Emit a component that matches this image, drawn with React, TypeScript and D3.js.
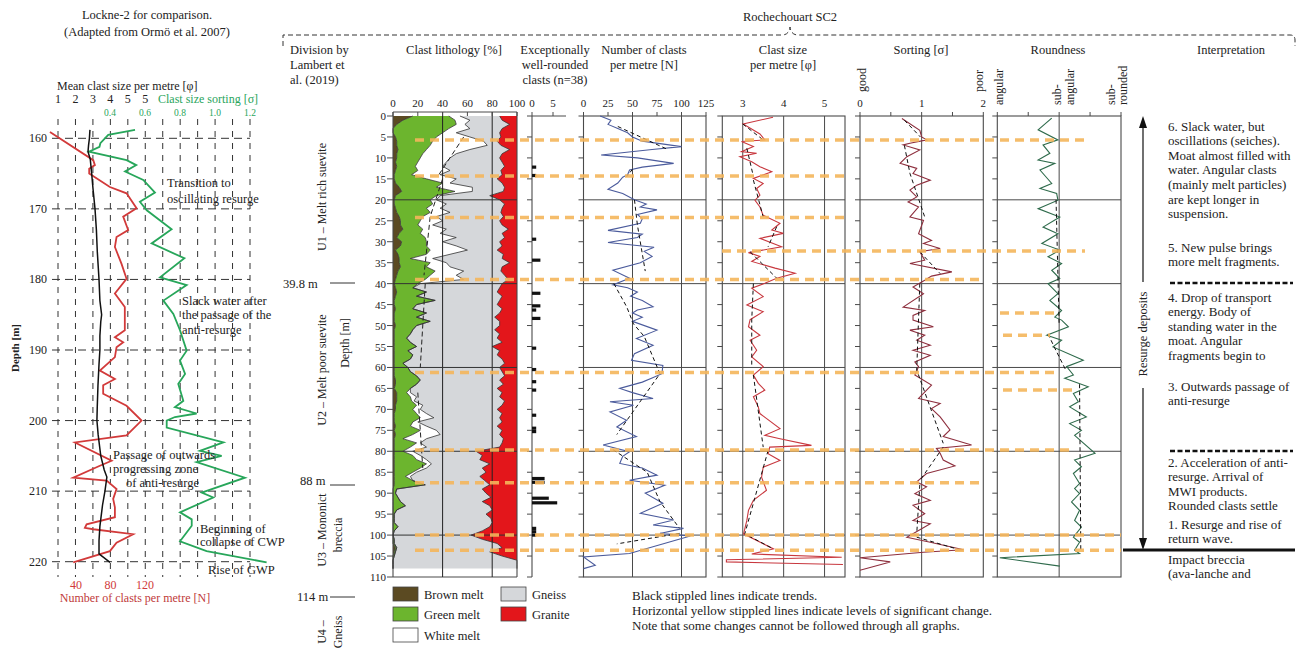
import React from 'react';
import * as d3 from 'd3';

// ---------- Rochechouart SC2 data (depth in m) ----------
const lithoDepths = d3.range(0, 109);
// component percentages per metre
const brownMelt = [16,8,3,0,0,2,3,3,4,3,3,2,3,2,1,1,2,5,7,2,1,1,2,3,5,6,6,8,5,3,7,6,2,4,5,5,6,4,3,2,1,2,3,2,1,1,2,1,1,1,2,1,1,1,1,1,1,1,1,1,1,1,1,2,2,1,3,3,3,2,2,1,1,1,2,1,2,1,1,1,1,1,1,1,1,1,1,1,1,0,0,0,0,0,0,0,0,0,0,0,0,0,0,2,1,0,0,0,0];
const greenMelt = [29,42,48,45,40,33,29,27,23,21,19,18,15,18,14,26,38,30,43,33,29,31,25,27,19,16,14,16,17,23,20,21,28,23,9,25,21,30,27,24,19,14,24,17,33,18,14,26,18,29,17,15,13,10,13,18,11,15,13,7,11,13,18,20,17,13,8,11,12,17,14,18,21,15,12,21,14,7,18,13,7,15,18,26,21,15,9,15,25,3,2,4,6,10,3,1,1,1,4,1,0,1,1,1,1,1,0,0,0];
const whiteMelt = [9,12,7,17,11,27,41,46,35,27,24,23,22,26,23,24,6,29,14,3,5,11,11,16,11,18,12,19,16,25,13,24,30,19,18,13,19,23,21,31,2,0,0,0,0,0,0,0,0,0,0,0,0,0,0,0,0,0,0,0,0,0,0,0,0,0,3,5,2,5,6,8,11,4,13,13,22,19,3,13,8,6,8,4,5,3,4,0,0,0,0,0,0,0,0,0,0,0,0,0,0,0,0,0,0,0,0,0,0];
const gneiss = [32,26,36,26,35,25,11,11,32,37,40,45,50,41,50,33,42,26,25,40,51,47,50,41,54,46,56,50,50,39,46,37,24,43,56,51,42,30,39,36,66,70,57,69,52,65,72,59,63,56,67,66,72,73,74,61,74,68,74,82,74,74,71,64,70,70,74,67,73,64,62,61,53,68,57,53,48,62,66,59,51,50,43,47,45,56,56,58,52,69,73,75,66,68,77,74,78,79,74,71,63,71,83,85,76,87,100,100,100];
const granite = [14,12,6,12,14,13,16,13,6,12,14,12,10,13,12,16,12,10,11,22,14,10,12,13,11,14,12,7,12,10,14,12,16,11,12,6,12,13,10,7,12,14,16,12,14,16,12,14,18,14,14,18,14,16,12,20,14,16,12,10,14,12,10,14,11,16,12,14,10,12,16,12,14,12,16,12,14,11,12,14,33,28,30,22,28,25,30,26,22,28,25,21,28,22,20,25,21,20,22,28,37,28,16,12,22,12,0,0,0];
const lithoTrend = [
  [[5, 57], [14, 37]],
  [[15, 40], [24, 30], [38, 25]],
  [[40, 26], [60, 22]],
  [[66, 20], [84, 24]],
];

const roundedDepths = [12.2,14.2,29.4,34.4,42.3,45.3,46.3,48.3,55.4,60.5,63.4,65.4,71.4,74.5,75.3,86.5,87.4,91.2,92.3,98.4,99.2,100];
const roundedCounts = [1,1,1,2,2,2,1,2,1,1,1,1,1,1,1,3,3,4,6,1,1,1];

const clastCount: [number, number][] = [[0,17],[1,28],[2,25],[3,35],[4,45],[5,50],[6,60],[7.3,100],[8,70],[9.3,18],[10,55],[11.3,92],[12.2,60],[12.9,47],[14,45],[14.6,40],[16,35],[17.5,25],[18.5,40],[20,52],[21,64],[21.7,58],[22.4,75],[23.5,55],[24.5,60],[25.6,58],[27.3,25],[28.2,60],[29,55],[30.2,25],[31.3,72],[32.3,62],[33.5,70],[35,58],[36.8,30],[38.7,47],[40.3,30],[41,45],[42,55],[43,48],[44,60],[45.5,71],[46.3,55],[47,50],[48,60],[49,50],[51.1,75],[53.1,54],[54.7,71],[56.7,52],[58.3,49],[59.5,81],[61.5,80],[62.5,70],[63.5,60],[65,37],[66,50],[67.4,71],[68.2,27],[69,51],[70.6,27],[72.6,44],[74.2,34],[76.5,54],[78.5,20],[80.1,47],[81.2,40],[82.9,37],[84,60],[85.7,75],[86.9,47],[88.1,83],[90,63],[92.4,81],[94.8,58],[96.4,92],[97.6,71],[98.4,102],[99.6,78],[100.2,109],[104.4,47],[105.2,0],[107.2,12],[108,0]];
const clastCountTrend = [
  [[2.5,35],[8,86]],
  [[12.7,50],[14.5,44]],
  [[20,52],[26,55],[37,63]],
  [[40,31],[45.5,44],[49.6,51],[52.6,62],[61.5,78],[76,34]],
  [[79.6,30],[85,65],[92,78],[98.4,98]],
  [[99.6,98],[102.1,34]],
];

const clastSize: [number, number][] = [[0.3,3.74],[1.9,3.01],[4.3,3.42],[5.7,3.54],[6.1,2.97],[7.3,3.26],[8.5,2.97],[8.9,3.34],[9.7,2.93],[10.9,3.22],[12.1,3.42],[13.3,3.71],[14.9,3.26],[16.1,3.5],[17.3,3.34],[18.9,3.42],[20.1,3.3],[21.7,3.42],[23.7,3.5],[25.6,3.91],[27.2,3.71],[28,3.99],[29.2,3.42],[31.2,3.95],[32.6,3.14],[33.5,3.42],[34.7,3.22],[36.3,3.79],[37.5,4.28],[38.7,3.83],[39.9,3.54],[41.1,3.22],[43.1,3.5],[45.1,3.1],[46.7,3.5],[48.6,3.18],[50.3,3.14],[52.3,3.42],[53.5,3.18],[55.9,3.34],[57.5,3.22],[59.8,3.5],[61.8,3.26],[63.8,3.38],[65.4,3.54],[67,3.26],[69.4,3.38],[71,3.42],[74.6,3.91],[76.2,3.54],[77,3.91],[78.6,4.68],[79,3.66],[80.6,3.62],[82.2,3.91],[83.8,3.5],[86.2,3.46],[89.3,3.58],[91.7,3.26],[94.1,3.14],[96.5,3.1],[99.7,3.02],[103.3,3.75],[104.5,3.22],[105.3,5.42],[105.9,2.6],[106.4,2.6],[107,5.45]];
const clastSizeTrend = [
  [[1.9,3.0],[5.7,3.5]],
  [[7.7,3.1],[14.4,3.26]],
  [[15.3,3.26],[24.1,3.5]],
  [[26.4,3.83],[31.2,3.62]],
  [[32.4,3.18],[38.7,3.83]],
  [[40,3.26],[48.6,3.22],[59.8,3.22]],
  [[61.8,3.26],[79,3.5]],
  [[79.8,3.62],[99.7,3.05],[103.3,3.75]],
];

const sorting: [number, number][] = [[0.6,0.68],[3.4,0.97],[5,1.0],[5.7,1.08],[6.5,0.81],[6.9,0.7],[8.1,0.97],[9.7,0.76],[11.3,0.65],[12.5,0.92],[13.7,0.86],[15.3,1.14],[16.5,0.92],[17.7,0.81],[19.3,0.92],[20.5,0.78],[21.7,0.95],[24.1,0.81],[24.9,1.03],[28.1,0.95],[29.7,1.16],[30.4,1.03],[31.6,1.3],[32.4,0.97],[34.4,1.05],[35.2,0.81],[37.2,1.49],[38.2,1.16],[39.2,1.05],[40.8,0.86],[42.4,1.03],[45.6,0.7],[46.4,1.05],[47.6,0.86],[48.7,0.86],[50.3,1.19],[51.1,0.81],[52.3,1.05],[53.5,0.92],[54.7,1.14],[55.9,0.86],[57.1,1.14],[58.7,0.89],[59.8,0.95],[61.8,0.89],[64.2,1.16],[67.4,0.95],[68.6,1.3],[69.8,1.16],[71.8,1.3],[74.9,1.46],[76.5,1.35],[78.5,1.81],[79.3,1.24],[80.5,1.3],[82.1,1.35],[83.5,1.54],[85.3,1.08],[87.3,0.92],[88.5,1.08],[90.1,0.89],[91.7,1.14],[92.9,0.86],[94.9,1.05],[96.5,0.86],[97.3,1.14],[100.5,0.76],[101.7,1.14],[103.5,1.68],[104.1,1.03],[105.4,0.0],[106.4,0.49],[108.4,0.0]];
const sortingTrend = [
  [[1,0.72],[5,0.98]],
  [[7,0.72],[13.7,0.81],[24.1,1.05]],
  [[32.4,0.97],[37.6,1.3]],
  [[40,0.97],[60.6,0.92],[78.1,1.35]],
  [[79,1.35],[87,0.97]],
  [[88,0.97],[99.7,0.92]],
  [[100.5,0.92],[103.3,1.57]],
];

const roundness: [number, number][] = [[0.5,0.88],[3.3,0.66],[5.7,0.98],[6.9,0.74],[8.9,0.85],[10.5,0.66],[11.3,0.93],[12.9,0.69],[16.1,0.88],[17.3,0.69],[18.5,0.96],[20.1,0.98],[22.1,0.66],[24.1,1.01],[26.5,0.74],[28.1,0.98],[30.4,0.72],[32,1.01],[33.6,0.82],[35.2,1.04],[36.8,0.88],[38.8,1.01],[40,0.82],[42.4,0.98],[44,0.85],[46.4,1.04],[48,0.93],[48.7,1.04],[50.3,1.15],[52.3,0.8],[53.5,1.04],[55.1,0.9],[58.3,1.39],[59.8,1.12],[61.8,1.23],[62.6,1.09],[64.6,1.47],[66.2,1.23],[68.2,1.31],[69.4,1.17],[71.8,1.44],[73.4,1.17],[75,1.36],[76.2,1.25],[80.5,1.58],[82.1,1.25],[83.7,1.36],[85.3,1.23],[87.7,1.33],[88.9,1.25],[90.1,1.33],[92.1,1.2],[94.1,1.33],[96.5,1.25],[98.1,1.36],[100.5,1.23],[101.7,1.33],[103.6,1.25],[104.4,1.33],[105.4,0.04],[107.4,1.01]];
const roundnessTrend = [
  [[20,0.95],[50,1.0]],
  [[52,0.82],[56,0.95],[61,1.12]],
  [[64,1.33],[104,1.35]],
];

// levels of significant change: depth and horizontal extent (x-pixels)
const changeLevels: [number, number, number][] = [
  [5.7, 415, 1090], [14.3, 415, 845], [24.2, 415, 845], [32.2, 722, 1085], [39, 415, 983],
  [47, 1000, 1060], [52.3, 1003, 1050], [61.2, 415, 1058], [65.4, 1003, 1078],
  [79.7, 415, 1075], [87.5, 415, 983], [100, 415, 1121], [103.6, 415, 1121],
];

// ---------- Lockne-2 data ----------
const lockneMeanSize: [number, number][] = [[158.8,2.83],[160,2.8],[161,2.75],[161.9,2.72],[163,2.85],[165,2.93],[167,3.0],[170,3.12],[173,3.2],[176,3.25],[180,3.35],[183,3.4],[185,3.5],[186,3.45],[188,3.4],[190,3.4],[192,3.35],[195,3.29],[198,3.25],[200,3.23],[202,3.3],[205,3.45],[207,3.65],[208,3.8],[210,3.69],[212,3.55],[215,3.4],[217,3.35],[218.9,3.35],[220.1,3.98]];
const lockneCount: [number, number][] = [[159.1,9.8],[163.1,60],[163.8,61.9],[164.3,55.3],[165,55.3],[166.9,79.3],[167.8,98.6],[169.9,110.2],[171.1,94.7],[173,100.5],[174,87],[175.4,85.1],[177.8,92.8],[179.9,98.6],[182,85.1],[183.9,96.6],[187.2,96.6],[188.2,85.1],[188.9,94.7],[189.6,87],[191,85.1],[192.9,67.7],[194.1,85.1],[195,71.5],[196.2,71.5],[197.9,98.6],[200,116],[202.1,98.6],[203.1,38.8],[205.7,81.3],[206.4,67.7],[208.1,36.8],[208.5,75.5],[209.7,87],[211.1,83.1],[212.3,85.1],[213.7,85.1],[214.7,52.3],[215.2,50.3],[215.4,60],[216.1,106.2],[217.3,87],[218.5,79.3],[220.1,36.8]];
const lockneSorting: [number, number][] = [[158.8,0.543],[159.5,0.39],[160.7,0.345],[161.2,0.34],[161.9,0.28],[163.1,0.495],[163.8,0.55],[164.7,0.486],[165.9,0.59],[167.7,0.657],[169,0.571],[170.2,0.61],[172.9,0.752],[174.9,0.638],[177,0.825],[179.7,0.686],[180.8,0.838],[183,0.705],[184.9,0.762],[187.2,0.8],[190.1,0.838],[191.5,0.8],[193.4,0.829],[194.8,0.79],[197.2,0.819],[198.1,0.771],[199,0.895],[199.5,0.771],[200,0.724],[201,0.724],[203.1,1.048],[204.3,0.914],[205,1.038],[205.9,0.895],[208.1,1.171],[210.2,0.924],[210.9,0.99],[213,0.8],[214,0.867],[214.9,0.867],[217.1,0.8],[218.5,0.952],[220.1,1.295]];
const lockneDepthTicks = [160, 170, 180, 190, 200, 210, 220];
const lockneSizeTicks = ['1', '2', '3', '4', '5', '5'];
const lockneSortTicks = [0.4, 0.6, 0.8, 1.0, 1.2];
const lockneCountTicks = [40, 80, 120];

const interpretation: [number, string[]][] = [
  [126, ['6. Slack water, but', 'oscillations (seiches).', 'Moat almost filled with', 'water. Angular clasts', '(mainly melt particles)', 'are kept longer in', 'suspension.']],
  [247, ['5. New pulse brings', 'more melt fragments.']],
  [297, ['4. Drop of transport', 'energy. Body of', 'standing water in the', 'moat. Angular', 'fragments begin to']],
  [386, ['3. Outwards passage of', 'anti-resurge']],
  [462, ['2. Acceleration of anti-', 'resurge. Arrival of', 'MWI products.', 'Rounded clasts settle']],
  [524, ['1. Resurge and rise of', 'return wave.']],
  [559, ['Impact breccia', '(ava-lanche and']],
];

const font = '"Liberation Serif", "DejaVu Serif", "Noto Serif", Tinos, "Times New Roman", Times, serif';
const YELLOW = '#f5b65c';
const GRID = '#4a4a4a';

export default function App() {
  const y = d3.scaleLinear().domain([0, 110]).range([116, 577]);
  const xLith = d3.scaleLinear().domain([0, 100]).range([393, 517]);
  const xRc = d3.scaleLinear().domain([0, 5]).range([532, 553]);
  const xCount = d3.scaleLinear().domain([0, 125]).range([583.5, 706]);
  const xSize = d3.scaleLinear().domain([2.5, 5.5]).range([722.3, 845]);
  const xSort = d3.scaleLinear().domain([0, 2]).range([860, 983.3]);
  const xRnd = d3.scaleLinear().domain([0, 2]).range([997.3, 1121]);

  const depthTicks = d3.range(0, 111, 5);
  const gridDepths = [20, 40, 60, 80, 100];

  const rows = lithoDepths.map((d, i) => ({
    depth: d, brown: brownMelt[i], green: greenMelt[i], white: whiteMelt[i], gneiss: gneiss[i], granite: granite[i],
  }));
  const keys = ['brown', 'green', 'white', 'gneiss', 'granite'];
  const colors: Record<string, string> = { brown: '#5b4a22', green: '#6cb52e', white: '#ffffff', gneiss: '#d5d7da', granite: '#e3161b' };
  const stacked = d3.stack<any>().keys(keys)(rows);
  const area = d3.area<any>().y((d) => y(d.data.depth)).x0((d) => xLith(d[0])).x1((d) => xLith(d[1]));
  const edge = d3.line<any>().y((d) => y(d.data.depth)).x((d) => xLith(d[1]));

  const profile = (xs: d3.ScaleLinear<number, number>) =>
    d3.line<number[]>().x((d) => xs(d[1])).y((d) => y(d[0]));

  // frame with gridlines for a profile panel
  const frame = (xs: d3.ScaleLinear<number, number>, vgrid: number[], topTicks: number[]) => {
    const [x0, x1] = xs.range();
    return (
      <g>
        <rect x={x0} y={y(0)} width={x1 - x0} height={y(110) - y(0)} fill="none" stroke={GRID} strokeWidth={1.1} />
        {vgrid.map((v) => (
          <line key={'v' + v} x1={xs(v)} x2={xs(v)} y1={y(0)} y2={y(110)} stroke={GRID} strokeWidth={1} />
        ))}
        {gridDepths.map((d) => (
          <line key={'h' + d} x1={x0} x2={x1} y1={y(d)} y2={y(d)} stroke={GRID} strokeWidth={1} />
        ))}
        {depthTicks.map((d) => (
          <line key={'t' + d} x1={x0 - 5} x2={x0} y1={y(d)} y2={y(d)} stroke={GRID} strokeWidth={1} />
        ))}
        {topTicks.map((v) => (
          <line key={'tt' + v} x1={xs(v)} x2={xs(v)} y1={y(0) - 4} y2={y(0)} stroke={GRID} strokeWidth={1} />
        ))}
      </g>
    );
  };

  const trend = (segs: number[][][], xs: d3.ScaleLinear<number, number>, key: string) =>
    segs.map((s, i) => (
      <path key={key + i} d={profile(xs)(s) || ''} fill="none" stroke="#111" strokeWidth={1} strokeDasharray="4,3" />
    ));

  // Lockne-2 scales
  const ly = d3.scaleLinear().domain([160, 220]).range([138.3, 561.7]);
  const lPhi = d3.scaleLinear().domain([1, 12]).range([58, 250]);
  const lSort = d3.scaleLinear().domain([0.4, 1.2]).range([110, 250]);
  const lCount = d3.scaleLinear().domain([40, 120]).range([76, 145]);
  const lLine = (xs: d3.ScaleLinear<number, number>) =>
    d3.line<[number, number]>().x((d) => xs(d[1])).y((d) => ly(d[0]));

  const txt = (x: number, yy: number, s: string, extra: any = {}) => (
    <text x={x} y={yy} fontSize={12.5} fill="#222" {...extra}>{s}</text>
  );
  const vtxt = (x: number, yy: number, s: string, anchor = 'middle', size = 12) => (
    <text transform={`translate(${x},${yy}) rotate(-90)`} textAnchor={anchor} dominantBaseline="central"
      fontSize={size} fill="#222">{s}</text>
  );

  return (
    <svg width={1308} height={650} style={{ position: 'absolute', left: 0, top: 0, background: '#fff', fontFamily: font }}>
      {/* ================= Lockne-2 ================= */}
      <g>
        <text x={147} y={19} textAnchor="middle" fontSize={12.5} fill="#222">Lockne-2  for comparison.</text>
        <text x={147} y={36} textAnchor="middle" fontSize={12.5} fill="#222">(Adapted from Ormö et al. 2007)</text>
        {txt(57, 90, 'Mean clast size per metre [φ]', { fontSize: 12 })}
        {lockneSizeTicks.map((t, i) => (
          <text key={'ls' + i} x={lPhi(i + 1)} y={103} textAnchor="middle" fontSize={12} fill="#222">{t}</text>
        ))}
        {txt(158, 103, 'Clast size sorting [σ]', { fill: '#2aa55c', fontSize: 12 })}
        {lockneSortTicks.map((t) => (
          <text key={'lt' + t} x={lSort(t)} y={116} textAnchor="middle" fontSize={9.5} fill="#2aa55c">{t.toFixed(1)}</text>
        ))}
        {d3.range(1, 13).map((v) => (
          <line key={'lv' + v} x1={lPhi(v)} x2={lPhi(v)} y1={119} y2={577} stroke="#333" strokeWidth={1} strokeDasharray="6,6" />
        ))}
        {lockneDepthTicks.map((d) => (
          <g key={'ld' + d}>
            <line x1={52} x2={250} y1={ly(d)} y2={ly(d)} stroke="#333" strokeWidth={1} strokeDasharray="8,5" />
            <text x={47} y={ly(d) + 4} textAnchor="end" fontSize={12} fill="#222">{d}</text>
          </g>
        ))}
        <text transform="translate(15,348) rotate(-90)" textAnchor="middle" dominantBaseline="central"
          fontSize={11} fontWeight="bold" fill="#222">Depth [m]</text>
        {lockneCountTicks.map((t) => (
          <text key={'lc' + t} x={lCount(t)} y={589} textAnchor="middle" fontSize={12} fill="#d03a3a">{t}</text>
        ))}
        <text x={135} y={602} textAnchor="middle" fontSize={12} fill="#c03a3a">Number of clasts per metre [N]</text>

        <path d={lLine(lCount)(lockneCount) || ''} fill="none" stroke="#d23a3a" strokeWidth={1.8} />
        <path d={lLine(lSort)(lockneSorting) || ''} fill="none" stroke="#27a65a" strokeWidth={1.8} />
        <path d={lLine(lPhi)(lockneMeanSize) || ''} fill="none" stroke="#111" strokeWidth={1.5} />

        {txt(167, 187, 'Transition to')}
        {txt(167, 203, 'oscillating resurge')}
        {txt(182, 305, 'Slack water after')}
        {txt(182, 319, 'the passage of the')}
        {txt(182, 334, 'anti-resurge')}
        {txt(113, 459, 'Passage of outwards')}
        {txt(113, 473, 'progressing zone')}
        {txt(126, 487, 'of anti-resurge')}
        {txt(200, 533, 'Beginning of')}
        {txt(200, 546, 'collapse of CWP')}
        {txt(208, 574, 'Rise of GWP')}
      </g>

      {/* ================= Rochechouart header ================= */}
      <text x={790} y={21} textAnchor="middle" fontSize={12.5} fill="#222">Rochechouart SC2</text>
      <path d="M283,46 L283,35 L782,35 Q789,35 790,27 Q791,35 798,35 L1290,35 Q1295,35 1295,40 L1295,46"
        fill="none" stroke="#333" strokeWidth={1} strokeDasharray="5,3" />
      {txt(290, 54, 'Division by')}
      {txt(290, 69, 'Lambert et')}
      {txt(290, 84, 'al. (2019)')}
      {txt(454, 54, 'Clast lithology [%]', { textAnchor: 'middle' })}
      {txt(555, 54, 'Exceptionally', { textAnchor: 'middle' })}
      {txt(555, 69, 'well-rounded', { textAnchor: 'middle' })}
      {txt(555, 84, 'clasts (n=38)', { textAnchor: 'middle' })}
      {txt(644, 54, 'Number of clasts', { textAnchor: 'middle' })}
      {txt(644, 69, 'per metre [N]', { textAnchor: 'middle' })}
      {txt(783, 54, 'Clast size', { textAnchor: 'middle' })}
      {txt(783, 69, 'per metre [φ]', { textAnchor: 'middle' })}
      {txt(921, 54, 'Sorting [σ]', { textAnchor: 'middle' })}
      {txt(1058, 54, 'Roundness', { textAnchor: 'middle' })}
      {txt(1231, 54, 'Interpretation', { textAnchor: 'middle' })}
      {vtxt(862, 92, 'good', 'start', 12)}
      {vtxt(979, 92, 'poor', 'start', 12)}
      {vtxt(999, 105, 'angular', 'start', 12)}
      {vtxt(1057, 105, 'sub-', 'start', 12)}
      {vtxt(1070, 105, 'angular', 'start', 12)}
      {vtxt(1111, 105, 'sub-', 'start', 12)}
      {vtxt(1123, 105, 'rounded', 'start', 12)}

      {/* ================= Division column ================= */}
      {vtxt(322, 197, 'U1 – Melt rich suevite')}
      {vtxt(322, 370, 'U2 – Melt poor suevite')}
      {vtxt(345, 343, 'Depth [m]')}
      {vtxt(322, 530, 'U3 – Mononict')}
      {vtxt(338, 535, 'breccia')}
      {vtxt(322, 632, 'U4 –')}
      {vtxt(338, 632, 'Gneiss')}
      {txt(283, 288, '39.8 m')}
      {txt(300, 485, '88 m')}
      {txt(297, 601, '114 m')}
      {[283, 485, 597].map((yy) => (
        <line key={'dl' + yy} x1={330} x2={355} y1={yy} y2={yy} stroke="#333" strokeWidth={1} />
      ))}

      {/* ================= Clast lithology ================= */}
      <g>
        {stacked.map((s) => (
          <path key={s.key} d={area(s) || ''} fill={colors[s.key]} />
        ))}
        {stacked.slice(0, 4).map((s) => (
          <path key={'e' + s.key} d={edge(s) || ''} fill="none" stroke="#333" strokeWidth={0.8} />
        ))}
        <line x1={xLith(0)} x2={xLith(0)} y1={112} y2={y(110)} stroke={GRID} strokeWidth={1.1} />
        <line x1={xLith(100)} x2={xLith(100)} y1={112} y2={y(110)} stroke={GRID} strokeWidth={1.1} />
        <line x1={xLith(0)} x2={xLith(100)} y1={112} y2={112} stroke={GRID} strokeWidth={1} />
        <line x1={xLith(0)} x2={xLith(100)} y1={y(110)} y2={y(110)} stroke={GRID} strokeWidth={1.1} />
        {[40, 80].map((v) => (
          <line key={'lg' + v} x1={xLith(v)} x2={xLith(v)} y1={112} y2={y(110)} stroke="#222" strokeWidth={1} />
        ))}
        {gridDepths.map((d) => (
          <line key={'lh' + d} x1={xLith(0)} x2={xLith(100)} y1={y(d)} y2={y(d)} stroke="#333" strokeWidth={1} />
        ))}
        {d3.range(0, 101, 20).map((v) => (
          <g key={'lx' + v}>
            <line x1={xLith(v)} x2={xLith(v)} y1={112} y2={116} stroke={GRID} />
            <text x={xLith(v)} y={107} textAnchor="middle" fontSize={11} fill="#222">{v}</text>
          </g>
        ))}
        {depthTicks.map((d) => (
          <g key={'ly' + d}>
            <line x1={xLith(0) - 6} x2={xLith(0)} y1={y(d)} y2={y(d)} stroke={GRID} />
            <text x={386} y={y(d) + 4} textAnchor="end" fontSize={11} fill="#222">{d}</text>
          </g>
        ))}
        {lithoTrend.map((s, i) => (
          <path key={'lt' + i} d={d3.line<number[]>().x((d) => xLith(d[1])).y((d) => y(d[0]))(s) || ''}
            fill="none" stroke="#222" strokeWidth={1} strokeDasharray="5,3" />
        ))}
      </g>

      {/* ================= Exceptionally well-rounded clasts ================= */}
      <g>
        <line x1={xRc(0)} x2={xRc(0)} y1={y(0)} y2={y(110)} stroke={GRID} strokeWidth={1.1} />
        <line x1={xRc(0)} x2={566} y1={y(0)} y2={y(0)} stroke={GRID} strokeWidth={1} />
        {[0, 5].map((v) => (
          <g key={'rc' + v}>
            <line x1={xRc(v)} x2={xRc(v)} y1={y(0) - 4} y2={y(0)} stroke={GRID} />
            <text x={xRc(v)} y={107} textAnchor="middle" fontSize={11} fill="#222">{v}</text>
          </g>
        ))}
        {depthTicks.map((d) => (
          <line key={'rct' + d} x1={xRc(0) - 5} x2={xRc(0)} y1={y(d)} y2={y(d)} stroke={GRID} />
        ))}
        {roundedDepths.map((d, i) => (
          <rect key={'rb' + i} x={xRc(0)} y={y(d) - 1.6} width={xRc(roundedCounts[i]) - xRc(0)} height={3.2} fill="#111" />
        ))}
      </g>

      {/* ================= Number of clasts ================= */}
      {frame(xCount, [50, 100], d3.range(0, 126, 25))}
      {d3.range(0, 126, 25).map((v) => (
        <text key={'nc' + v} x={xCount(v)} y={107} textAnchor="middle" fontSize={11} fill="#222">{v}</text>
      ))}
      <path d={profile(xCount)(clastCount) || ''} fill="none" stroke="#4b5b9c" strokeWidth={1.1} />
      {trend(clastCountTrend, xCount, 'nct')}

      {/* ================= Clast size ================= */}
      {frame(xSize, [3, 4, 5], [])}
      {[3, 4, 5].map((v) => (
        <text key={'cs' + v} x={xSize(v)} y={107} textAnchor="middle" fontSize={11} fill="#222">{v}</text>
      ))}
      <path d={profile(xSize)(clastSize) || ''} fill="none" stroke="#c8383f" strokeWidth={1.1} />
      {trend(clastSizeTrend, xSize, 'cst')}

      {/* ================= Sorting ================= */}
      {frame(xSort, [1], [0, 0.5, 1, 1.5, 2])}
      {[0, 1, 2].map((v) => (
        <text key={'so' + v} x={xSort(v)} y={107} textAnchor="middle" fontSize={11} fill="#222">{v}</text>
      ))}
      <path d={profile(xSort)(sorting) || ''} fill="none" stroke="#8e2f3e" strokeWidth={1.1} />
      {trend(sortingTrend, xSort, 'sot')}

      {/* ================= Roundness ================= */}
      {frame(xRnd, [1], [0, 0.5, 1, 1.5, 2])}
      <path d={profile(xRnd)(roundness) || ''} fill="none" stroke="#2f6b4c" strokeWidth={1.1} />
      {trend(roundnessTrend, xRnd, 'rot')}

      {/* ================= Yellow change levels ================= */}
      {changeLevels.map(([d, a, b], i) => (
        <line key={'yl' + i} x1={a} x2={b} y1={y(d)} y2={y(d)} stroke={YELLOW} strokeWidth={3.5}
          strokeDasharray="9,6" opacity={0.9} />
      ))}

      {/* ================= Interpretation ================= */}
      <line x1={1143} x2={1143} y1={124} y2={282} stroke="#111" strokeWidth={1.2} />
      <line x1={1143} x2={1143} y1={388} y2={542} stroke="#111" strokeWidth={1.2} />
      <path d="M1143,116 L1139,128 L1147,128 Z" fill="#111" />
      <path d="M1143,550 L1139,538 L1147,538 Z" fill="#111" />
      {vtxt(1143, 334, 'Resurge deposits', 'middle', 12.5)}
      <line x1={1170} x2={1293} y1={283} y2={283} stroke="#111" strokeWidth={2.5} strokeDasharray="5,2.5" />
      <line x1={1170} x2={1293} y1={451} y2={451} stroke="#111" strokeWidth={2.5} strokeDasharray="5,2.5" />
      <line x1={1123} x2={1295} y1={550} y2={550} stroke="#111" strokeWidth={3} />
      {interpretation.map(([y0, lines], bi) =>
        lines.map((s, i) => (
          <text key={'in' + bi + '-' + i} x={1168} y={y0 + i * 14.6 + 4.5} fontSize={13} fill="#222">{s}</text>
        ))
      )}

      {/* ================= Legend & notes ================= */}
      {[
        ['brown', 'Brown melt', 393, 587],
        ['green', 'Green melt', 393, 607],
        ['white', 'White melt', 393, 628],
        ['gneiss', 'Gneiss', 501, 587],
        ['granite', 'Granite', 501, 607],
      ].map(([k, label, x, yy]: any) => (
        <g key={'lg' + k}>
          <rect x={x} y={yy} width={25} height={14} fill={colors[k]} stroke="#444" strokeWidth={0.8} />
          {txt(x + 31, yy + 11.5, label)}
        </g>
      ))}
      {txt(632, 600, 'Black stippled lines indicate trends.', { fontSize: 13 })}
      {txt(632, 615, 'Horizontal yellow stippled lines indicate levels of significant change.', { fontSize: 13 })}
      {txt(632, 630, 'Note that some changes cannot be followed through all graphs.', { fontSize: 13 })}
    </svg>
  );
}
